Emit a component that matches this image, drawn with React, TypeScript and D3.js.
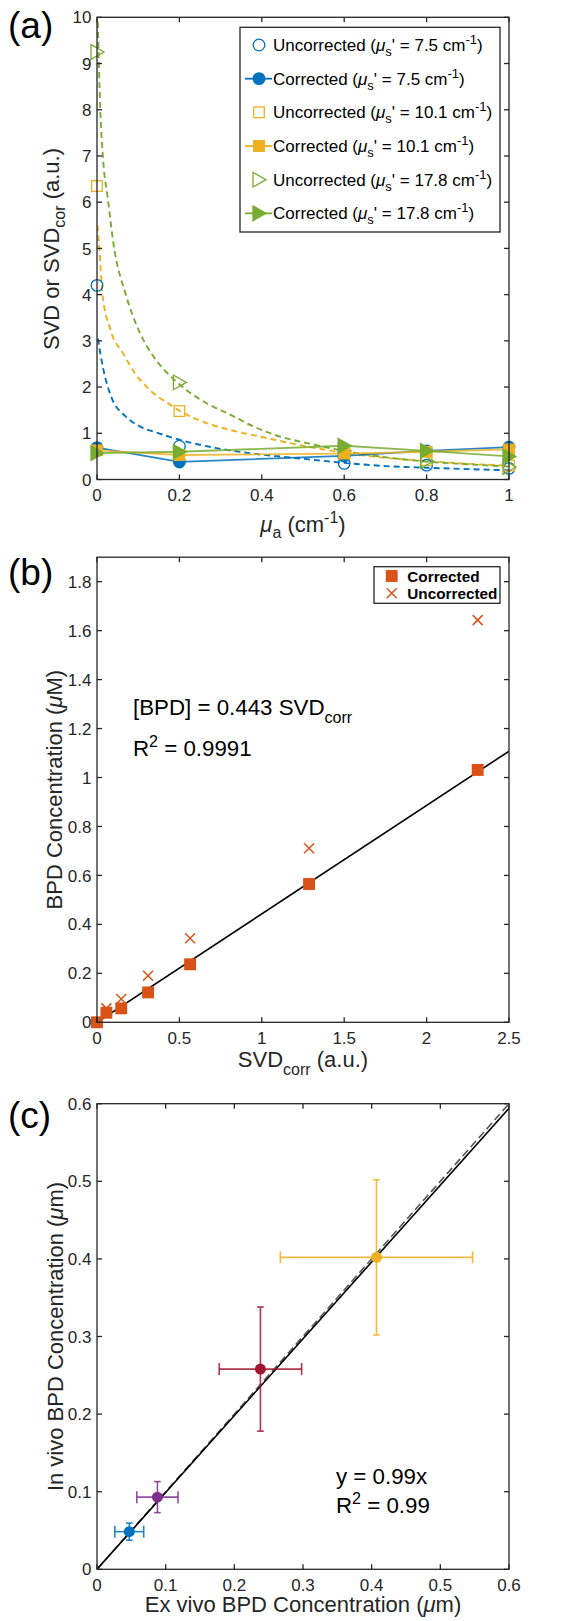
import React from 'react';
import * as d3 from 'd3';

const W = 582;
const H = 1621;
const FONT = '"Liberation Sans", Arial, Helvetica, sans-serif';
const AXC = '#262626';

// ---------- Panel (a) data ----------
const muA = [0, 0.2, 0.6, 0.8, 1];
const uncorr75 = [4.2, 0.72, 0.35, 0.31, 0.24];
const corr75 = [0.69, 0.38, 0.51, 0.62, 0.7];
const uncorr101 = [6.35, 1.48, 0.56, 0.42, 0.3];
const corr101 = [0.63, 0.53, 0.56, 0.6, 0.65];
const uncorr178 = [9.25, 2.1, 0.62, 0.4, 0.27];
const corr178 = [0.57, 0.6, 0.73, 0.62, 0.5];

const fit75: [number, number][] = [
  [0.002, 3.05], [0.015, 2.4], [0.034, 1.8], [0.07, 1.36], [0.106, 1.14], [0.15, 1.0],
  [0.2, 0.86], [0.29, 0.68], [0.37, 0.57], [0.43, 0.51], [0.51, 0.44], [0.6, 0.36],
  [0.7, 0.29], [0.8, 0.255], [0.9, 0.225], [1.0, 0.2],
];
const fit101: [number, number][] = [
  [0.001, 5.5], [0.006, 4.97], [0.013, 4.03], [0.033, 3.23], [0.063, 2.73], [0.092, 2.3],
  [0.128, 1.94], [0.179, 1.61], [0.208, 1.45], [0.266, 1.22], [0.324, 1.07], [0.4, 0.92],
  [0.5, 0.73], [0.6, 0.58], [0.7, 0.47], [0.8, 0.4], [0.9, 0.34], [1.0, 0.3],
];
const fit178: [number, number][] = [
  [0.002, 9.9], [0.008, 8.0], [0.015, 6.9], [0.026, 6.1], [0.04, 5.1], [0.07, 4.0],
  [0.108, 3.1], [0.142, 2.6], [0.171, 2.3], [0.208, 2.0], [0.266, 1.65], [0.324, 1.4],
  [0.382, 1.14], [0.43, 0.97], [0.513, 0.78], [0.6, 0.62], [0.694, 0.49], [0.796, 0.39],
  [0.9, 0.33], [1.0, 0.28],
];
const musValues = ['7.5', '7.5', '10.1', '10.1', '17.8', '17.8'];
const legendKinds = ['Uncorrected', 'Corrected', 'Uncorrected', 'Corrected', 'Uncorrected', 'Corrected'];
const aXTicks = [0, 0.2, 0.4, 0.6, 0.8, 1];
const aYTicks = [0, 1, 2, 3, 4, 5, 6, 7, 8, 9, 10];

// ---------- Panel (b) data ----------
const svdCorrected = [0, 0.057, 0.147, 0.31, 0.565, 1.287, 2.31];
const bpdCorrected = [0, 0.039, 0.057, 0.122, 0.237, 0.565, 1.031];
const svdUncorrected = [0.057, 0.147, 0.31, 0.565, 1.287, 2.31];
const bpdUncorrected = [0.057, 0.095, 0.19, 0.343, 0.711, 1.643];
const slopeB = 0.443;
const bXTicks = [0, 0.5, 1, 1.5, 2, 2.5];
const bYTicks = [0, 0.2, 0.4, 0.6, 0.8, 1, 1.2, 1.4, 1.6, 1.8];

// ---------- Panel (c) data ----------
const exVivo = [0.047, 0.088, 0.238, 0.407];
const inVivo = [0.0485, 0.093, 0.258, 0.402];
const exErr = [0.021, 0.03, 0.06, 0.14];
const inErr = [0.011, 0.02, 0.08, 0.1];
const cColors = ['#0072BD', '#7E2F8E', '#A2142F', '#EDB120'];
const slopeC = 0.99;
const cTicks = [0, 0.1, 0.2, 0.3, 0.4, 0.5, 0.6];

const BLUE = '#0072BD';
const ORANGE = '#EDB120';
const GREEN = '#77AC30';
const RED = '#D95319';

const fmt = (v: number) => String(Math.round(v * 100) / 100);

const XL = 97;
const XR = 509;
const xA = d3.scaleLinear().domain([0, 1]).range([XL, XR]);
const yA = d3.scaleLinear().domain([0, 10]).range([479.5, 17.3]);
const xB = d3.scaleLinear().domain([0, 2.5]).range([XL, XR]);
const yB = d3.scaleLinear().domain([0, 1.9]).range([1022.3, 557.2]);
const xC = d3.scaleLinear().domain([0, 0.6]).range([XL, XR]);
const yC = d3.scaleLinear().domain([0, 0.6]).range([1569.3, 1103.7]);

const TICK_FS = 17;
const LABEL_FS = 22;
const SUB_FS = 16;
const NOTE_FS = 22.3;

function Axes({ x, y, xTicks, yTicks }: any) {
  const [x0, x1] = x.range();
  const [yb, yt] = y.range();
  const TL = 5;
  return (
    <g>
      {xTicks.map((t: number) => (
        <g key={'x' + t}>
          <line x1={x(t)} x2={x(t)} y1={yb} y2={yb - TL} stroke={AXC} strokeWidth={1.3} />
          <line x1={x(t)} x2={x(t)} y1={yt} y2={yt + TL} stroke={AXC} strokeWidth={1.3} />
          <text x={x(t)} y={yb + 21.5} textAnchor="middle" fontSize={TICK_FS} fill={AXC}>{fmt(t)}</text>
        </g>
      ))}
      {yTicks.map((t: number) => (
        <g key={'y' + t}>
          <line x1={x0} x2={x0 + TL} y1={y(t)} y2={y(t)} stroke={AXC} strokeWidth={1.3} />
          <line x1={x1} x2={x1 - TL} y1={y(t)} y2={y(t)} stroke={AXC} strokeWidth={1.3} />
          <text x={x0 - 5.5} y={y(t) + 6.1} textAnchor="end" fontSize={TICK_FS} fill={AXC}>{fmt(t)}</text>
        </g>
      ))}
      <rect x={x0} y={yt} width={x1 - x0} height={yb - yt} fill="none" stroke={AXC} strokeWidth={1.3} />
    </g>
  );
}

function Marker({ type, cx, cy, color, filled }: any) {
  const fill = filled ? color : 'none';
  if (type === 'circle') return <circle cx={cx} cy={cy} r={5.8} fill={fill} stroke={color} strokeWidth={1.3} />;
  if (type === 'square') return <rect x={cx - 5.3} y={cy - 5.3} width={10.6} height={10.6} fill={fill} stroke={color} strokeWidth={1.3} />;
  if (type === 'tri') return <path d={`M${cx - 6},${cy - 7.3}L${cx + 7},${cy}L${cx - 6},${cy + 7.3}Z`} fill={fill} stroke={color} strokeWidth={1.3} strokeLinejoin="miter" />;
  if (type === 'x') return <path d={`M${cx - 5},${cy - 5}L${cx + 5},${cy + 5}M${cx - 5},${cy + 5}L${cx + 5},${cy - 5}`} stroke={color} strokeWidth={1.5} fill="none" />;
  return null;
}

const seriesA = [
  { u: uncorr75, c: corr75, fit: fit75, color: BLUE, type: 'circle' },
  { u: uncorr101, c: corr101, fit: fit101, color: ORANGE, type: 'square' },
  { u: uncorr178, c: corr178, fit: fit178, color: GREEN, type: 'tri' },
];

export default function App() {
  const fitLine = d3.line<[number, number]>().x(d => xA(d[0])).y(d => yA(d[1])).curve(d3.curveMonotoneX);
  const corrLine = d3.line<number>().x((_, i) => xA(muA[i])).y(d => yA(d));
  const legendRowY = (i: number) => 45 + i * 33.67;

  return (
    <svg width={W} height={H} style={{ position: 'absolute', left: 0, top: 0, display: 'block', background: '#fff' }}
      fontFamily={FONT}>
      <defs>
        <clipPath id="clipA"><rect x={XL} y={17.3} width={XR - XL} height={462.2} /></clipPath>
        <clipPath id="clipB"><rect x={XL} y={557.2} width={XR - XL} height={465.1} /></clipPath>
        <clipPath id="clipC"><rect x={XL} y={1103.7} width={XR - XL} height={465.6} /></clipPath>
      </defs>
      <rect x={0} y={0} width={W} height={H} fill="#fff" />

      {/* ================= Panel (a) ================= */}
      <text x={8} y={38} fontSize={37} fill="#000">(a)</text>
      <g clipPath="url(#clipA)">
        {seriesA.map((s, k) => (
          <path key={'fit' + k} d={fitLine(s.fit) || ''} fill="none" stroke={s.color} strokeWidth={1.9} strokeDasharray="6,4" />
        ))}
      </g>
      {seriesA.map((s, k) => (
        <g key={'u' + k}>
          {s.u.map((v, i) => <Marker key={i} type={s.type} cx={xA(muA[i])} cy={yA(v)} color={s.color} filled={false} />)}
        </g>
      ))}
      {seriesA.map((s, k) => (
        <g key={'c' + k}>
          <path d={corrLine(s.c) || ''} fill="none" stroke={s.color} strokeWidth={1.8} opacity={0.85} />
          {s.c.map((v, i) => <Marker key={i} type={s.type} cx={xA(muA[i])} cy={yA(v)} color={s.color} filled={true} />)}
        </g>
      ))}
      <Axes x={xA} y={yA} xTicks={aXTicks} yTicks={aYTicks} />
      {/* legend a */}
      <rect x={240} y={27.3} width={260} height={204.7} fill="#fff" stroke={AXC} strokeWidth={1.3} />
      {legendKinds.map((kind, i) => {
        const s = seriesA[Math.floor(i / 2)];
        const cy = legendRowY(i);
        const filled = kind === 'Corrected';
        return (
          <g key={'lg' + i}>
            {filled && <line x1={245} x2={272} y1={cy} y2={cy} stroke={s.color} strokeWidth={1.8} />}
            <Marker type={s.type} cx={259} cy={cy} color={s.color} filled={filled} />
            <text x={273} y={cy + 6} fontSize={17} fill="#000" style={{ whiteSpace: 'pre' }}>
              {kind + ' ('}
              <tspan fontStyle="italic">μ</tspan>
              <tspan fontSize={13} dy={5}>s</tspan>
              <tspan dy={-5}>{"' = " + musValues[i] + ' cm'}</tspan>
              <tspan fontSize={13} dy={-7}>-1</tspan>
              <tspan dy={7}>)</tspan>
            </text>
          </g>
        );
      })}
      <text x={303} y={532} textAnchor="middle" fontSize={LABEL_FS} fill={AXC} style={{ whiteSpace: 'pre' }}>
        <tspan fontStyle="italic">μ</tspan>
        <tspan fontSize={SUB_FS} dy={6}>a</tspan>
        <tspan dy={-6}>{' (cm'}</tspan>
        <tspan fontSize={SUB_FS} dy={-9}>-1</tspan>
        <tspan dy={9}>)</tspan>
      </text>
      <text transform="translate(58.5,249) rotate(-90)" textAnchor="middle" fontSize={LABEL_FS} fill={AXC} style={{ whiteSpace: 'pre' }}>
        {'SVD or SVD'}
        <tspan fontSize={SUB_FS} dy={6}>cor</tspan>
        <tspan dy={-6}>{' (a.u.)'}</tspan>
      </text>

      {/* ================= Panel (b) ================= */}
      <text x={8} y={584.6} fontSize={37} fill="#000">(b)</text>
      <g clipPath="url(#clipB)">
        <line x1={xB(0)} y1={yB(0)} x2={xB(2.5)} y2={yB(slopeB * 2.5)} stroke="#000" strokeWidth={1.6} />
      </g>
      {svdUncorrected.map((v, i) => <Marker key={'bu' + i} type="x" cx={xB(v)} cy={yB(bpdUncorrected[i])} color={RED} />)}
      {svdCorrected.map((v, i) => <Marker key={'bc' + i} type="square" cx={xB(v)} cy={yB(bpdCorrected[i])} color={RED} filled={true} />)}
      <Axes x={xB} y={yB} xTicks={bXTicks} yTicks={bYTicks} />
      <rect x={374} y={566.7} width={126} height={36.6} fill="#fff" stroke={AXC} strokeWidth={1.3} />
      <Marker type="square" cx={391.7} cy={576} color={RED} filled={true} />
      <Marker type="x" cx={391.7} cy={593.3} color={RED} />
      <text x={407.3} y={581.5} fontSize={15.3} fontWeight="bold" fill="#000">Corrected</text>
      <text x={407.3} y={598.8} fontSize={15.3} fontWeight="bold" fill="#000">Uncorrected</text>
      <text x={133} y={715} fontSize={NOTE_FS} fill="#000" style={{ whiteSpace: 'pre' }}>
        {'[BPD] = 0.443 SVD'}
        <tspan fontSize={SUB_FS} dy={8}>corr</tspan>
      </text>
      <text x={133} y={756} fontSize={NOTE_FS} fill="#000" style={{ whiteSpace: 'pre' }}>
        {'R'}
        <tspan fontSize={SUB_FS} dy={-9}>2</tspan>
        <tspan dy={9}>{' = 0.9991'}</tspan>
      </text>
      <text x={303} y={1066.7} textAnchor="middle" fontSize={LABEL_FS} fill={AXC} style={{ whiteSpace: 'pre' }}>
        {'SVD'}
        <tspan fontSize={SUB_FS} dy={8}>corr</tspan>
        <tspan dy={-8}>{' (a.u.)'}</tspan>
      </text>
      <text transform="translate(61.5,789.7) rotate(-90)" textAnchor="middle" fontSize={LABEL_FS} fill={AXC} style={{ whiteSpace: 'pre' }}>
        {'BPD Concentration ('}
        <tspan fontStyle="italic">μ</tspan>
        {'M)'}
      </text>

      {/* ================= Panel (c) ================= */}
      <text x={8} y={1128.3} fontSize={37} fill="#000">(c)</text>
      <g clipPath="url(#clipC)">
        <line x1={xC(0)} y1={yC(0)} x2={xC(0.6)} y2={yC(0.6)} stroke="#555" strokeWidth={1.6} strokeDasharray="8,4" />
        <line x1={xC(0)} y1={yC(0)} x2={xC(0.6)} y2={yC(slopeC * 0.6)} stroke="#000" strokeWidth={1.6} />
      </g>
      {exVivo.map((xv, i) => {
        const cx = xC(xv), cy = yC(inVivo[i]);
        const c = cColors[i];
        const xl = xC(xv - exErr[i]), xr = xC(xv + exErr[i]);
        const yt = yC(inVivo[i] + inErr[i]), ybm = yC(inVivo[i] - inErr[i]);
        return (
          <g key={'c' + i}>
            <line x1={xl} x2={xr} y1={cy} y2={cy} stroke={c} strokeWidth={1.6} opacity={0.85} />
            <line x1={cx} x2={cx} y1={yt} y2={ybm} stroke={c} strokeWidth={1.6} opacity={0.85} />
            <line x1={xl} x2={xl} y1={cy - 6} y2={cy + 6} stroke={c} strokeWidth={1.6} opacity={0.85} />
            <line x1={xr} x2={xr} y1={cy - 6} y2={cy + 6} stroke={c} strokeWidth={1.6} opacity={0.85} />
            <line x1={cx - 3.3} x2={cx + 3.3} y1={yt} y2={yt} stroke={c} strokeWidth={1.6} opacity={0.85} />
            <line x1={cx - 3.3} x2={cx + 3.3} y1={ybm} y2={ybm} stroke={c} strokeWidth={1.6} opacity={0.85} />
            <circle cx={cx} cy={cy} r={5.5} fill={c} />
          </g>
        );
      })}
      <Axes x={xC} y={yC} xTicks={cTicks} yTicks={cTicks} />
      <text x={336} y={1484} fontSize={NOTE_FS} fill="#000">y = 0.99x</text>
      <text x={336} y={1513.3} fontSize={NOTE_FS} fill="#000" style={{ whiteSpace: 'pre' }}>
        {'R'}
        <tspan fontSize={SUB_FS} dy={-9}>2</tspan>
        <tspan dy={9}>{' = 0.99'}</tspan>
      </text>
      <text x={303} y={1612} textAnchor="middle" fontSize={LABEL_FS} fill={AXC} style={{ whiteSpace: 'pre' }}>
        {'Ex vivo BPD Concentration ('}
        <tspan fontStyle="italic">μ</tspan>
        {'m)'}
      </text>
      <text transform="translate(63,1336.5) rotate(-90)" textAnchor="middle" fontSize={LABEL_FS} fill={AXC} style={{ whiteSpace: 'pre' }}>
        {'In vivo BPD Concentration ('}
        <tspan fontStyle="italic">μ</tspan>
        {'m)'}
      </text>
    </svg>
  );
}
